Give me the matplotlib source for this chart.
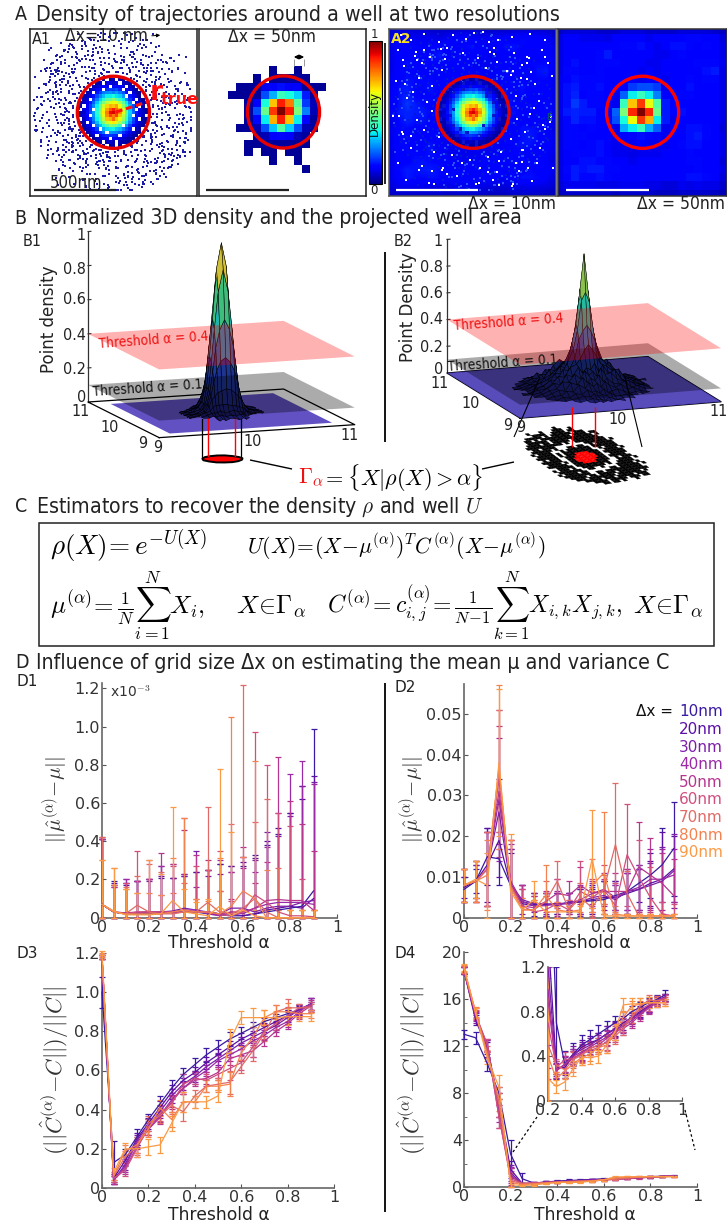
import numpy as np
import matplotlib
matplotlib.use('Agg')
import matplotlib.pyplot as plt
from matplotlib.colors import LinearSegmentedColormap, Normalize
from matplotlib.collections import PolyCollection
from matplotlib.transforms import Affine2D
from matplotlib.patches import Circle, Rectangle
from mpl_toolkits.mplot3d import proj3d
from mpl_toolkits.mplot3d.art3d import Poly3DCollection

W, H = 727, 1226
plt.rcParams['mathtext.fontset'] = 'cm'
plt.rcParams['font.family'] = 'DejaVu Sans'

_ = -1
# ------------------------------------------------------------ data: panel A
grid50 = [
[_,_,_,_,_,_,_,_,_,_,_,_,_,_,_,_,_,_,_,_,_],
[_,_,_,_,_,_,_,_,_,_,_,_,_,_,_,_,_,_,_,_,_],
[_,_,_,_,_,_,_,_,_,_,_,_,_,_,_,_,_,_,_,_,_],
[_,_,_,_,_,_,_,_,_,_,_,_,_,_,_,_,_,_,_,_,_],
[_,_,_,_,_,_,_,_,_,_,_,_,_,_,_,_,_,_,_,_,_],
[_,_,_,_,_,_,_,_,_,2,_,_,2,_,_,_,_,_,_,_,_],
[_,_,_,_,_,_,_,2,_,2,3,3,3,2,_,_,_,_,_,_,_],
[_,_,_,_,_,2,2,2,10,11,14,11,11,3,2,2,_,_,_,_,_],
[_,_,_,_,2,2,2,3,20,30,42,38,33,15,3,_,_,_,_,_,_],
[_,_,_,_,_,_,3,12,38,70,88,78,45,18,5,_,_,_,_,_,_],
[_,_,_,_,_,_,3,20,48,85,100,88,50,25,5,_,_,_,_,_,_],
[_,_,_,_,_,_,3,13,36,72,88,70,36,13,3,_,_,_,_,_,_],
[_,_,_,_,_,2,2,5,20,32,45,33,20,5,3,_,_,_,_,_,_],
[_,_,_,_,_,_,_,3,5,12,13,12,5,3,_,_,_,_,_,_,_],
[_,_,_,_,_,_,2,2,2,3,3,3,2,2,_,_,_,_,_,_,_],
[_,_,_,_,_,_,2,_,2,2,_,2,2,_,_,_,_,_,_,_,_],
[_,_,_,_,_,_,_,_,_,2,_,_,2,_,_,_,_,_,_,_,_],
[_,_,_,_,_,_,_,_,_,_,_,_,_,2,_,_,_,_,_,_,_],
[_,_,_,_,_,_,_,_,_,_,_,_,_,_,_,_,_,_,_,_,_],
[_,_,_,_,_,_,_,_,_,_,_,_,_,_,_,_,_,_,_,_,_],
[_,_,_,_,_,_,_,_,_,_,_,_,_,_,_,_,_,_,_,_,_],
]
bg50 = [
[7,8,8,8,8,7,7,7,8,8,8,7,7,7,7,8,8,8,8,7,6],
[9,11,11,10,10,10,9,11,12,12,11,10,11,11,12,12,13,13,12,11,8],
[9,12,12,11,11,11,12,12,13,13,14,11,10,11,14,14,13,12,13,12,9],
[9,12,11,11,12,13,15,11,11,11,12,11,10,10,12,13,12,12,11,12,9],
[9,12,14,12,12,13,13,13,11,11,11,10,10,11,11,12,11,13,13,13,10],
[9,13,13,12,12,13,11,12,11,12,10,11,10,11,12,12,12,12,14,15,9],
[10,12,14,13,13,13,12,12,11,11,10,11,11,10,12,12,13,12,13,13,9],
[10,14,15,13,13,14,12,11,11,18,20,20,18,10,12,12,14,12,12,12,9],
[10,14,16,12,13,13,12,10,22,36,42,36,25,11,11,13,13,12,12,12,9],
[10,14,18,15,13,13,12,10,42,70,85,63,45,15,11,12,11,12,12,12,9],
[10,15,16,15,15,12,11,22,50,87,100,87,48,15,11,14,12,12,12,12,9],
[9,13,16,14,14,12,11,20,38,64,85,72,36,15,10,12,12,11,12,12,9],
[9,13,13,12,13,12,12,10,30,36,42,30,22,10,11,11,14,14,13,12,8],
[9,13,13,13,12,12,11,10,11,13,14,13,11,10,11,12,14,15,13,12,9],
[9,13,13,12,13,14,11,10,10,10,11,10,10,10,11,13,14,14,12,12,9],
[9,12,13,13,13,14,12,10,10,9,10,10,10,11,12,12,13,12,12,11,9],
[9,12,12,14,14,13,13,11,11,10,11,11,12,12,11,12,13,13,12,11,8],
[9,13,15,14,15,15,13,13,12,12,11,12,12,11,12,12,12,13,12,12,9],
[9,12,15,13,13,14,13,12,12,12,12,12,12,11,11,11,14,14,13,11,8],
[8,10,10,10,10,9,9,9,10,10,10,9,9,8,8,10,9,10,9,9,7],
[6,7,7,7,7,7,7,6,7,7,7,7,6,6,6,7,7,7,7,6,5],
]
blob10 = [
[_,_,_,_,_,_,_,4,_,3,5,_,4,3,_,_,_,_,_,_,_],
[_,_,_,_,_,4,6,_,8,9,7,10,_,6,5,4,_,_,_,_,_],
[_,_,_,_,5,7,9,12,10,_,13,12,11,9,_,6,4,_,_,_,_],
[_,_,_,4,8,11,14,_,17,19,18,20,16,_,13,8,5,3,_,_,_],
[_,_,4,8,_,15,19,24,26,27,25,28,24,21,14,_,8,4,2,_,_],
[_,4,6,10,14,20,26,31,36,36,38,35,33,27,_,15,11,7,3,_,_],
[_,5,8,_,18,25,33,40,46,48,52,47,42,36,26,18,13,_,5,3,_],
[3,6,10,15,22,32,40,50,58,62,64,63,56,46,36,25,_,11,6,4,2],
[4,_,12,18,26,36,47,60,68,72,70,74,64,52,40,30,20,13,_,5,_],
[_,8,13,19,_,38,50,64,74,82,88,80,72,60,44,32,22,_,9,5,3],
[3,7,14,20,28,40,52,66,78,90,92,86,76,62,47,33,23,15,9,6,2],
[4,8,12,_,27,38,50,63,76,84,78,84,70,58,45,32,_,14,10,5,_],
[_,6,11,17,25,36,46,58,70,72,80,70,64,54,42,30,20,13,_,4,3],
[3,5,_,15,22,31,40,50,60,64,66,62,56,46,36,26,18,11,7,4,2],
[_,4,8,12,_,25,32,38,46,52,50,48,42,_,28,19,13,8,5,3,_],
[_,3,6,9,14,19,_,30,34,36,37,33,31,25,19,15,_,7,4,_,_],
[_,_,4,7,10,14,19,24,_,27,26,25,22,17,14,9,7,4,2,_,_],
[_,_,_,3,6,_,13,15,17,18,17,16,_,12,9,7,4,3,_,_,_],
[_,_,_,_,3,5,8,10,11,_,12,10,9,7,5,4,3,_,_,_,_],
[_,_,_,_,_,3,4,_,6,7,5,_,5,4,3,3,_,_,_,_,_],
[_,_,_,_,_,_,_,3,_,3,4,_,3,_,_,_,_,_,_,_,_],
]
a1_x = [228,244,251,233,212,186,153,107,64,12,-34,-78,-128,-166,-204,-232,-244,-248,-233,-207,-178,-131,-88,-36,14,57,108,147,198,222,
 266,268,244,232,176,134,76,28,-22,-79,-126,-184,-218,-259,-268,-284,-261,-249,-206,-169,-111,-64,-2,41,99,136,189,221,259,271,
 298,296,288,258,229,166,114,46,-18,-66,-134,-186,-244,-276,-304,-306,-299,-271,-244,-191,-144,-76,-24,44,96,159,206,254,281,304,
 333,342,328,306,284,236,199,136,84,16,-44,-96,-169,-216,-269,-301,-339,-346,-364,-331,-319,-276,-239,-176,-124,-56,9,66,129,181,244,276,324,341,374,
 377,369,331,304,251,209,146,89,16,-49,-111,-184,-236,-299,-336,-379,-391,-404,-386,-369,-326,-289,-221,-169,-96,-34,44,106,179,231,294,331,379,391,
 424,426,409,381,354,296,249,176,114,36,-31,-114,-176,-249,-306,-369,-401,-434,-446,-459,-436,-414,-366,-319,-251,-194,-116,-49,34,96,174,236,304,356,414,436,459,
 476,474,436,404,336,269,181,99,1,-89,-166,-264,-331,-404,-441,-479,-486,-484,-451,-409,-341,-269,-171,-94,4,81,179,261,344,396,454,476,
 262,318,282,356,148,206,72,-58,-158,-262,-318,-372,-296,-222,-128,-268,-352,-418,-152,-84,128,212,296,372,158,92,38,-142,-238,-312,
 -392,-444,-68,-18,308,356,244,172,118,62,232,188,274,402,442,-206,-122,-344,-424,-478,66,152,328,388,282,204,146,252,170,112]
a1_y = [31,-44,64,-87,114,147,178,203,238,243,241,229,201,178,127,84,26,-24,-67,-119,-157,-198,-221,-244,-247,-238,-212,-188,-136,-104,
 12,-74,109,146,198,227,262,266,276,256,238,201,164,101,54,-9,-57,-114,-156,-209,-232,-266,-271,-268,-247,-228,-191,-159,-106,-37,
 44,-24,91,148,191,238,268,294,297,293,264,238,186,138,66,14,-51,-119,-166,-219,-251,-288,-296,-298,-271,-254,-206,-166,-109,-56,
 17,-48,89,131,194,226,268,297,328,337,348,321,308,261,228,171,119,47,-24,-81,-144,-191,-244,-277,-319,-331,-354,-336,-324,-286,-254,-201,-154,-86,-29,
 64,116,179,231,284,311,349,366,389,386,374,341,314,261,219,146,84,1,-69,-126,-194,-241,-299,-326,-369,-381,-394,-366,-349,-301,-264,-206,-144,-66,
 14,76,154,201,259,306,359,386,424,431,444,421,404,356,319,256,199,121,54,-29,-96,-174,-231,-294,-336,-389,-411,-439,-436,-429,-391,-346,-309,-246,-184,-101,-34,
 26,114,186,274,341,409,436,474,476,466,449,396,349,276,204,111,24,-74,-151,-254,-316,-384,-426,-469,-481,-474,-441,-399,-331,-269,-166,-84,
 312,392,336,298,362,296,402,322,378,342,288,-302,-378,-356,-268,-402,-342,-266,-348,-398,-358,-288,-352,-312,444,386,422,468,438,372,
 -378,-252,-208,-468,252,222,438,458,396,446,-228,-268,-316,-352,-336,-312,-352,-128,-318,-214,-318,-402,-298,186,-214,-252,-306,-182,-292,-336]
a2_white_x = [-440,-380,-300,-210,-120,-40,60,150,240,350,440,-460,-350,-260,-160,-60,30,130,250,330,420,-420,-310,-190,80,210,300,460,-470,-330,-250,290,380,480,-400,-280,260,400,-450,-340,-250,270,350,470,-430,-300,-210,230,320,440,-380,-240,-130,-20,90,170,300,410,-460,-310,-190,-70,40,160,280,390,490,-410,-270,-100,20,120,240,360]
a2_white_y = [-470,-440,-480,-430,-470,-450,-490,-440,-460,-480,-440,-380,-370,-340,-390,-360,-330,-390,-360,-340,-380,-280,-300,-260,-270,-250,-290,-300,-190,-210,-160,-210,-170,-220,-90,-60,-100,-70,20,50,-10,40,10,60,130,110,150,160,120,100,220,240,260,290,270,240,230,220,310,330,350,310,340,300,360,310,340,410,430,390,440,410,450,420]
speck_col = ['#0018d8', '#2a50ff']

# ------------------------------------------------------------ data: panel B
xs1 = [9.62,9.72,9.78,9.82,9.85,9.88,9.91,9.95,10,10.05,10.09,10.12,10.15,10.18,10.22,10.28,10.38]
z1 = [
[_,_,_,1,0,1,0,1,1,0,1,0,1,_,_,_,_],
[_,1,1,2,1,2,2,1,2,1,2,2,1,1,2,_,_],
[_,1,2,3,3,3,4,3,3,4,3,3,2,3,1,1,_],
[1,2,3,4,6,7,7,7,7,6,6,5,5,3,2,1,_],
[0,1,3,6,10,12,14,15,16,15,13,11,9,6,3,2,1],
[1,2,3,7,12,20,27,32,34,31,26,20,12,6,3,1,0],
[0,2,4,7,14,26,40,50,56,50,40,27,13,7,4,1,1],
[1,1,3,7,15,31,50,72,85,72,50,32,15,6,3,2,0],
[0,2,3,6,16,34,56,85,100,86,55,33,15,7,3,1,1],
[1,1,4,7,15,32,50,74,86,72,50,31,14,6,4,1,0],
[0,2,3,6,13,25,41,52,55,51,38,26,13,7,3,2,1],
[1,1,3,7,12,19,26,33,34,32,26,19,12,6,3,1,0],
[0,2,2,6,9,12,14,15,15,14,13,12,9,5,2,2,1],
[_,1,3,4,5,7,6,7,6,7,6,5,5,4,3,1,_],
[_,1,1,3,2,3,4,3,3,3,4,3,2,2,1,1,_],
[_,_,1,1,2,1,2,2,1,2,1,2,1,1,1,_,_],
[_,_,_,0,1,0,1,1,0,1,1,0,1,_,_,_,_],
]
disc1_dx = [-.19,-.17,-.12,-.05,.02,.09,.15,.19,.2,.17,.11,.04,-.04,-.11,-.16]
disc1_dy = [0,.08,.15,.18,.19,.17,.11,.04,-.03,-.1,-.16,-.19,-.18,-.15,-.08]

xs2 = [9.35,9.42,9.5,9.57,9.64,9.7,9.76,9.82,9.88,9.92,9.96,10,10.04,10.08,10.12,10.18,10.24,10.3,10.36,10.43,10.5,10.58,10.65]
z2 = [
[_,_,_,_,_,_,_,1,0,1,0,1,0,1,1,0,_,_,_,_,_,_,_],
[_,_,_,_,_,1,0,1,2,1,1,0,2,1,0,1,1,0,_,_,_,_,_],
[_,_,_,1,0,1,2,3,2,4,2,3,2,4,2,1,2,1,1,_,_,_,_],
[_,_,1,0,2,1,4,3,6,4,5,3,6,3,4,5,3,1,2,0,1,_,_],
[_,_,0,2,2,5,4,9,6,10,7,9,6,10,7,5,7,3,4,1,0,_,_],
[_,1,1,3,5,4,10,8,13,9,12,10,14,9,11,7,6,8,3,4,1,1,_],
[_,0,2,4,5,10,9,15,11,17,13,16,12,18,13,14,9,7,7,3,3,0,_],
[1,1,2,5,8,7,14,12,19,14,18,16,21,14,19,12,15,8,5,4,2,1,0],
[0,1,3,3,7,12,11,18,20,24,30,34,30,25,19,17,13,14,7,5,2,1,_],
[1,0,3,5,9,8,16,15,24,38,44,48,43,36,23,19,15,10,8,3,4,0,1],
[_,1,3,4,7,13,12,20,30,44,66,72,64,42,28,15,18,11,5,4,2,1,_],
[0,1,4,6,8,11,17,16,34,48,74,100,72,47,32,20,14,12,8,5,3,0,1],
[_,1,3,5,6,12,15,19,29,42,64,70,66,43,27,16,19,10,7,4,2,1,_],
[1,0,4,3,8,10,14,18,23,36,42,46,44,37,22,18,14,11,8,3,3,1,0],
[0,1,3,5,7,13,12,17,19,23,29,32,30,25,20,15,16,12,5,4,2,0,1],
[1,1,3,4,9,8,15,19,16,14,19,15,18,16,14,19,11,9,7,4,3,1,_],
[_,0,2,5,5,11,10,13,16,11,14,18,12,15,11,14,12,8,5,3,3,1,_],
[_,1,2,3,8,5,10,7,11,8,12,8,11,10,12,7,8,7,4,4,1,0,_],
[_,_,1,4,3,5,4,8,4,7,5,8,4,8,5,7,4,5,3,1,1,_,_],
[_,_,0,1,3,2,4,3,5,3,4,3,4,3,5,3,4,2,3,1,0,_,_],
[_,_,_,1,1,2,2,3,1,3,2,3,2,2,3,1,1,2,1,_,_,_,_],
[_,_,_,_,_,0,1,1,2,0,1,2,0,1,1,1,0,_,_,_,_,_,_],
[_,_,_,_,_,_,_,0,1,0,1,0,1,0,1,_,_,_,_,_,_,_,_],
]
tile2 = [
".........##.##.#...#.......",
".......####.#####.###.##...",
".....#####.###.#####.###...",
"...###.########.#######.#..",
"..#####.##.#####.#########.",
".########..##.###########..",
"#.####.##.......##.######.#",
".#######..##..#....#####.#.",
"#.###.#..#######.#..#####..",
"..#####.##########...####.#",
"######..###RRRR####..#.###.",
".####.#.##RRRRRR###.#####..",
"######..##RRRRRRR##..#####.",
".#.###..###RRRRRR##.######.",
"######.#.###RRRR###..####.#",
".#####.#.#########..#.####.",
"#.####...#.#######.#######.",
".######.#...##.##..#.#####.",
"..##.####.........#######.#",
".###########.#..#########..",
"..####.##.#####.########...",
"...######.#############.#..",
"...##.#.#########.####.##..",
"....#####.#.######.###.....",
".......####..####.##.......",
"......#...#...###..#.......",
"...............#...........",
]

# ------------------------------------------------------------ data: panel D
alphas = [0,.05,.1,.15,.2,.25,.3,.35,.4,.45,.5,.55,.6,.65,.7,.75,.8,.85,.9]
sizes = ['10nm','20nm','30nm','40nm','50nm','60nm','70nm','80nm','90nm']
series_col = ['#3a1aa0','#5a0fa5','#7b1fa8','#9a2aa5','#b5358f','#cf4f7f','#e06a65','#f3824f','#fb9a45']

d1_mean = [
[.07,.03,.02,.02,.02,.02,.03,.03,.03,.02,.015,.01,.01,.02,.03,.04,.05,.06,.14],
[.07,.03,.02,.02,.02,.03,.03,.04,.03,.03,.02,.02,.01,.02,.04,.05,.06,.05,.1],
[.07,.03,.02,.025,.03,.03,.035,.05,.04,.03,.02,.05,.05,.03,.05,.06,.06,.08,.09],
[.07,.03,.025,.025,.03,.03,.03,.04,.04,.02,.01,.03,.02,.05,.07,.08,.08,.08,.07],
[.07,.03,.025,.03,.03,.03,.025,.03,.03,.03,.02,.03,.03,.05,.09,.095,.09,.09,.04],
[.07,.03,.02,.03,.03,.03,.03,.04,.03,.03,.015,.01,.03,.12,.08,.03,.01,.01,.005],
[.07,.03,.02,.065,.03,.02,.02,.03,.03,.08,.03,.02,.05,.1,.03,0,0,0,0],
[.07,.03,.02,.02,.02,.02,.03,.04,.03,.03,.02,.06,.14,.1,0,0,0,0,0],
[.07,.035,.015,.015,.015,.02,.09,.03,.02,.01,.06,.01,.04,.01,0,0,0,0,0],
]
d1_top = [
[.41,.19,.18,.19,.2,.21,.21,.23,.24,.25,.28,.27,.27,.33,.38,.44,.55,.69,.99],
[.41,.18,.17,.19,.2,.22,.21,.22,.24,.25,.28,.27,.29,.31,.4,.47,.55,.62,.74],
[.41,.17,.2,.19,.19,.27,.21,.22,.35,.22,.23,.24,.32,.3,.45,.43,.53,.69,.71],
[.41,.16,.2,.19,.2,.27,.28,.23,.16,.25,.3,.24,.26,.24,.37,.55,.75,.82,.7],
[.41,.16,.18,.19,.2,.34,.28,.46,.33,.3,.14,.1,.37,.18,.29,.84,.61,.49,.35],
[.42,.17,.18,.35,.3,.12,.27,.52,.27,.25,.35,.09,.32,.97,.8,.55,.48,.2,.04],
[.42,.17,.16,.22,.28,.24,.13,.18,.1,.58,.14,.49,1.22,.5,.62,.26,.04,.04,.04],
[.3,.26,.15,.13,.13,.12,.31,.52,.1,.09,.31,1.05,.32,.82,.25,.04,.04,.04,.04],
[.3,.26,.15,.13,.3,.23,.58,.15,.08,.1,.78,.45,.04,.04,.04,.04,.04,.04,.04],
]
d2_mean = [
[.007,.009,.015,.0145,.008,.004,.0033,.0033,.0035,.0037,.004,.0042,.0045,.0055,.0065,.0085,.0105,.013,.017],
[.0075,.009,.013,.019,.008,.0035,.003,.0033,.0035,.0035,.004,.0045,.005,.005,.006,.007,.0085,.0095,.012],
[.008,.009,.012,.026,.008,.0045,.0035,.0035,.003,.004,.004,.005,.0055,.0045,.0065,.007,.008,.009,.0115],
[.008,.009,.012,.029,.009,.004,.003,.003,.0035,.0035,.0045,.006,.007,.005,.0065,.0075,.0095,.0095,.0105],
[.008,.009,.012,.031,.009,.003,.0025,.004,.006,.0055,.008,.006,.0065,.0065,.0065,.0125,.0105,.0085,.0055],
[.008,.009,.012,.034,.008,.003,.0015,.002,.0035,.002,.0065,.005,.007,.003,.0155,.01,.005,.001,.0005],
[.008,.009,.012,.036,.008,.002,.002,.004,.009,.002,.005,.0025,.007,.018,.006,.0005,.0005,.0005,.0005],
[.008,.009,.0105,.037,.0075,.002,.002,.0055,.002,.0015,.002,.008,.011,.001,.0005,.0005,.0005,.0005,.0005],
[.008,.0095,.008,.038,.0065,.002,.0045,.0015,.0015,.0015,.0015,.0145,.0005,.0005,.0005,.0005,.0005,.0005,.0005],
]
d2_top = [
[.01,.012,.022,.021,.016,.008,.006,.006,.006,.006,.007,.007,.009,.009,.012,.013,.016,.022,.0285],
[.01,.013,.022,.028,.017,.007,.006,.006,.006,.006,.007,.008,.009,.009,.011,.012,.014,.021,.02],
[.012,.013,.021,.034,.017,.008,.0055,.006,.006,.006,.0075,.0075,.009,.008,.011,.012,.0135,.0175,.0205],
[.012,.014,.021,.044,.018,.008,.006,.0055,.0065,.006,.008,.0085,.011,.008,.011,.013,.017,.017,.017],
[.012,.014,.021,.047,.019,.008,.0055,.0065,.0095,.009,.0125,.009,.0095,.011,.012,.0235,.0195,.016,.0145],
[.012,.014,.021,.051,.019,.007,.004,.006,.0095,.0045,.014,.0095,.013,.0085,.028,.019,.0125,.004,.0035],
[.012,.014,.021,.051,.019,.005,.0045,.009,.014,.0045,.0085,.0065,.0105,.033,.0115,.001,.001,.001,.001],
[.012,.014,.019,.057,.019,.005,.0045,.013,.004,.003,.004,.0145,.026,.0015,.001,.001,.001,.001,.001],
[.012,.014,.016,.056,.0205,.004,.009,.0035,.003,.003,.003,.0265,.001,.001,.001,.001,.001,.001,.001],
]
d3_mean = [
[1.0,.13,.17,.26,.35,.43,.51,.58,.63,.68,.72,.76,.79,.82,.85,.87,.89,.91,.93],
[1.18,.05,.14,.25,.33,.41,.49,.55,.59,.64,.68,.72,.76,.79,.82,.85,.88,.91,.94],
[1.18,.04,.12,.24,.32,.39,.47,.53,.57,.62,.66,.7,.74,.77,.8,.83,.87,.91,.94],
[1.18,.04,.11,.23,.3,.37,.45,.51,.56,.6,.65,.68,.71,.75,.78,.82,.85,.9,.94],
[1.18,.04,.1,.21,.3,.36,.44,.51,.55,.56,.59,.66,.68,.7,.75,.8,.84,.89,.93],
[1.18,.05,.09,.2,.31,.38,.43,.53,.56,.55,.58,.61,.64,.72,.8,.84,.88,.92,.93],
[1.18,.06,.16,.21,.33,.37,.42,.39,.47,.52,.53,.54,.62,.7,.79,.9,.92,.92,.92],
[1.19,.06,.19,.22,.3,.41,.35,.44,.44,.52,.52,.53,.69,.77,.87,.9,.9,.89,.89],
[1.2,.08,.2,.2,.21,.22,.33,.44,.44,.44,.47,.75,.87,.87,.87,.87,.875,.875,.875],
]
d3_err_low = [.08,.11,.03,.04,.03,.04,.04,.035,.035,.035,.035,.035,.03,.03,.02,.02,.02,.02,.02]
d3_err_mid = [.01,.02,.03,.03,.03,.035,.035,.03,.03,.03,.03,.03,.03,.03,.025,.025,.03,.025,.03]
d3_err_high = [.01,.02,.03,.04,.04,.04,.04,.05,.03,.03,.03,.06,.035,.05,.04,.035,.045,.02,.02]
d3_err_sel = [0,1,1,1,1,2,2,2,2]

d4_mean = [
[13,12.7,10.5,8,2.8,.7,.33,.42,.5,.55,.6,.65,.7,.74,.8,.84,.88,.91,.95],
[18.4,14.2,11.8,7,1.5,.3,.3,.4,.48,.52,.55,.6,.65,.7,.75,.8,.85,.9,.93],
[18.4,14.4,12,7,1.2,.28,.32,.42,.46,.5,.55,.6,.64,.68,.74,.79,.85,.9,.93],
[18.4,14.5,12,6.5,1,.27,.33,.4,.44,.48,.53,.57,.63,.67,.72,.78,.84,.89,.93],
[18.4,14.6,12.1,6,.9,.27,.33,.38,.43,.47,.5,.56,.62,.65,.7,.77,.83,.88,.92],
[18.5,14.7,12.1,6,.7,.3,.37,.38,.42,.45,.48,.53,.6,.68,.75,.82,.86,.9,.92],
[18.5,14.8,11.5,7,.5,.32,.28,.37,.41,.47,.5,.52,.58,.65,.75,.85,.9,.9,.9],
[18.6,14.9,11.2,7.5,.4,.2,.27,.33,.39,.42,.48,.5,.62,.75,.85,.87,.88,.88,.88],
[18.7,14.8,11,8.5,.2,.13,.17,.29,.39,.39,.4,.5,.62,.86,.87,.87,.88,.88,.88],
]
d4_err_first = [.4,.5,.6,.5,1.2,.5,.12,.1,.09,.09,.08,.07,.06,.06,.05,.05,.04,.04,.04]
d4_err_rest = [.3,.4,.5,1,.7,.06,.07,.07,.07,.06,.06,.07,.07,.06,.05,.05,.05,.04,.03]

# ------------------------------------------------------------ helpers
fig = plt.figure(figsize=(W/100, H/100), dpi=100, facecolor='white')
def axpx(x0, y0, x1, y1, **kw):
    return fig.add_axes([x0/W, 1-y1/H, (x1-x0)/W, (y1-y0)/H], **kw)

ov = fig.add_axes([0, 0, 1, 1], zorder=100)
ov.set_xlim(0, W); ov.set_ylim(H, 0); ov.axis('off'); ov.patch.set_visible(False)
COND = dict(family='DejaVu Sans', stretch='condensed')
TXT = '#222222'
def t(x, y, s, size=12, ha='left', va='center', color=TXT, **kw):
    return ov.text(x, y, s, fontsize=size, ha=ha, va=va, color=color, **kw)
def seg(xs, ys, color='k', lw=1, **kw):
    ov.plot(xs, ys, color=color, lw=lw, solid_capstyle='butt', **kw)

# ------------------------------------------------------------ headers
for lab, x_lab, y, s in [('A', 15, 15, 'Density of trajectories around a well at two resolutions'),
                         ('B', 14, 218, 'Normalized 3D density and the projected well area'),
                         ('C', 15, 507, 'Estimators to recover the density $\\rho$ and well $U$'),
                         ('D', 15, 663, 'Influence of grid size Δx on estimating the mean μ and variance C')]:
    t(x_lab, y, lab, size=14, **COND)
    t(36, y, s, size=15.3, **COND)

# ------------------------------------------------------------ panel A
S = 6.1
def panel(x0, x1, cx, cy=112.3, y0=29, y1=196, edge='#222222'):
    a = axpx(x0, y0, x1, y1)
    a.set_xlim((x0-cx)*S, (x1-cx)*S); a.set_ylim((y1-cy)*S, (y0-cy)*S)
    a.set_xticks([]); a.set_yticks([])
    for sp in a.spines.values():
        sp.set_color(edge); sp.set_linewidth(1.1)
    return a
def arr(m):
    return np.ma.masked_less(np.array(m, float), 0)/100.
def ring(a, col='#e60000', lw=2.4):
    a.add_patch(Circle((0, 0), 220, fill=False, ec=col, lw=lw, zorder=6))
dot = '#1c1ca8'
a1 = panel(30, 197, 113.4)
a1.scatter(a1_x, a1_y, s=1.8, marker='s', color=dot, linewidths=0, zorder=2)
a1.scatter(a1_y, a1_x, s=1.8, marker='s', color=dot, linewidths=0, zorder=2)
a1.scatter(a1_y[::-1], a1_x, s=1.8, marker='s', color=dot, linewidths=0, zorder=2)
a1.add_patch(Circle((0, 0), 205, fc='white', ec='none', zorder=2.5))
a1.imshow(arr(blob10), cmap='jet', vmin=0, vmax=1, extent=(-210, 210, 210, -210), interpolation='nearest', zorder=3)
a1.set_xlim((30-113.4)*S, (197-113.4)*S); a1.set_ylim((196-112.3)*S, (29-112.3)*S); a1.set_aspect('auto')
ring(a1)

a1b = panel(199, 366, 283.5, 112)
a1b.imshow(arr(grid50), cmap='jet', vmin=0, vmax=1, extent=(-538, 512, 521, -529), interpolation='nearest', zorder=2)
a1b.set_xlim((199-283.5)*S, (366-283.5)*S); a1b.set_ylim((196-112)*S, (29-112)*S); a1b.set_aspect('auto')
ring(a1b)

a2 = panel(389, 556, 473, edge='#555555')
a2.imshow(arr(bg50), cmap='jet', vmin=0, vmax=1, extent=(-525, 525, 525, -525), interpolation='bilinear', zorder=1)
a2.add_patch(Circle((0, 0), 215, fc='#0a14c8', ec='none', zorder=1.5))
a2.scatter(a1_y, a1_x, s=1.8, marker='s', color=speck_col[0], linewidths=0, zorder=2)
a2.scatter(a1_x[::-1], a1_y, s=1.8, marker='s', color=speck_col[1], linewidths=0, zorder=2)
a2.scatter(a2_white_x, a2_white_y, s=2.2, marker='s', color='white', linewidths=0, zorder=3)
a2.scatter(a1_x[120::4], a1_y[120::4], s=1.8, marker='s', color='white', linewidths=0, zorder=3)
a2.imshow(arr(blob10), cmap='jet', vmin=0, vmax=1, extent=(-210, 210, 210, -210), interpolation='nearest', zorder=4)
a2.set_xlim((389-473)*S, (556-473)*S); a2.set_ylim((196-112.3)*S, (29-112.3)*S); a2.set_aspect('auto')
ring(a2)

a2b = panel(558, 727, 642.6, edge='#333333')
a2b.imshow(arr(bg50), cmap='jet', vmin=0, vmax=1, extent=(-537, 513, 522, -528), interpolation='nearest', zorder=2)
a2b.set_xlim((558-642.6)*S, (727-642.6)*S); a2b.set_ylim((196-112.3)*S, (29-112.3)*S); a2b.set_aspect('auto')
ring(a2b, col='#ff0000')

cax = axpx(368.5, 41, 382, 184)
matplotlib.colorbar.ColorbarBase(cax, cmap=plt.get_cmap('jet'), norm=Normalize(0, 1), ticks=[])

t(374, 34, '1', size=8.5, ha='center')
t(374, 190, '0', size=8.5, ha='center')
t(374, 113, 'Density', size=8.5, ha='center', rotation=90, color='#111111')
seg([385, 385], [43, 184], lw=1.2)
t(32, 40, 'A1', size=11.5, **COND)
t(65, 36, 'Δx=10 nm', size=12.5, **COND)
t(228, 37, 'Δx = 50nm', size=12.5, **COND)
t(391, 39, 'A2', size=10, color='#f5e020', fontweight='bold')
t(468, 204, 'Δx = 10nm', size=12.5, **COND)
t(637, 204, 'Δx = 50nm', size=12.5, **COND)
t(50, 183, '500nm', size=12, **COND)
t(549, 117, '8', size=6.5, ha='center', color='#0a7a30')
for x0, x1, col in [(34, 116, '#222222'), (206, 289, '#222222'), (396, 478, 'white'), (566, 649, 'white')]:
    seg([x0, x1], [190, 190], color=col, lw=1.6)
ov.annotate('', xy=(163, 35), xytext=(149, 36), arrowprops=dict(arrowstyle='-|>', lw=.7, color='k', mutation_scale=5))
ov.annotate('', xy=(307, 57), xytext=(291, 57), arrowprops=dict(arrowstyle='<|-|>', lw=1, color='k', mutation_scale=6))
seg([294, 294], [59, 66], color='#999999', lw=.7)
seg([304, 304], [59, 66], color='#999999', lw=.7)
seg([116, 150], [112, 101], color='#ff1010', lw=2.2, linestyle=(0, (2.2, 1.2)))
t(150, 93, 'r', size=19, color='#ff1010', fontweight='bold')
t(161, 99, 'true', size=11.5, color='#ff1010', fontweight='bold')

# ------------------------------------------------------------ panel B
surf_cmap = LinearSegmentedColormap.from_list('well', [(0, '#1b1a6a'), (.3, '#1d3a9a'), (.42, '#1f90c0'),
                                                       (.55, '#20b8a8'), (.72, '#50c060'), (.88, '#e8c030'), (1, '#f0a020')])
def make3d(rect_px, elev, azim, zr):
    a = axpx(*rect_px, projection='3d', proj_type='ortho', computed_zorder=False)
    a.view_init(elev=elev, azim=azim)
    a.set_xlim(9, 11, view_margin=0); a.set_ylim(9, 11, view_margin=0); a.set_zlim(0, 1, view_margin=0)
    a.set_box_aspect((1, 1, zr))
    a.set_axis_off(); a.patch.set_visible(False)
    return a
def fit3d(a, zr, anchor, anchor_px, ref, length):
    def proj(P):
        x, y, _z = proj3d.proj_transform(*P, a.get_proj())
        return a.transData.transform((x, y))
    a.apply_aspect()
    d = np.hypot(*(proj(ref)-proj(anchor)))
    a.set_box_aspect((1, 1, zr), zoom=length/d)
    a.apply_aspect()
    p = proj(anchor)
    pos = a.get_position()
    a.set_position([pos.x0+(anchor_px[0]-p[0])/W, pos.y0+((H-anchor_px[1])-p[1])/H, pos.width, pos.height])
def plane(a, lo, hi, z, color, zo):
    a.add_collection3d(Poly3DCollection([[(lo, lo, z), (hi, lo, z), (hi, hi, z), (lo, hi, z)]],
                                        facecolors=[color], edgecolors='none', zorder=zo))
def surf(a, xs, Z, zo, lw=.4):
    polys, cols = [], []
    for i in range(len(xs)-1):
        for j in range(len(xs)-1):
            v = [Z[i][j], Z[i][j+1], Z[i+1][j+1], Z[i+1][j]]
            if min(v) < 0:
                continue
            q = [xs[j], xs[j+1], xs[j+1], xs[j]]
            r = [xs[i], xs[i], xs[i+1], xs[i+1]]
            polys.append([(q[k], r[k], v[k]/100.) for k in range(4)])
            cols.append(surf_cmap(np.mean(v)/100.))
    a.add_collection3d(Poly3DCollection(polys, facecolors=cols, edgecolors='k', linewidths=lw, zorder=zo))
def axes_frame(a):
    a.plot([9, 9], [11, 11], [0, 1], color='#333333', lw=.9, zorder=1)
    for z in [.2, .4, .6, .8, 1]:
        a.plot([9, 9.03], [11, 11], [z, z], color='#333333', lw=.8, zorder=1)
    a.plot([9, 11, 11, 9, 9], [9, 9, 11, 11, 9], [0, 0, 0, 0, 0], color='k', lw=.9, zorder=1)

# B1
zr1 = .833
b1 = make3d((-40, 160, 460, 660), 10.5, 250, zr1)
axes_frame(b1)
plane(b1, 9.17, 10.83, 0, (.27, .2, .72, .85), 2)
surf(b1, xs1, z1, 5, lw=.35)
plane(b1, 9, 11, .1, (0, 0, 0, .33), 7)
plane(b1, 9, 11, .4, (1, 0, 0, .3), 8)
d1x = [10+v for v in disc1_dx]; d1y = [10+v for v in disc1_dy]
b1.add_collection3d(Poly3DCollection([[(x, y, -.265) for x, y in zip(d1x, d1y)]],
                                     facecolors=['#ff0000'], edgecolors='k', linewidths=1.4, zorder=4))
for s, col in [(1, 'red'), (-1, 'red')]:
    b1.plot([10+s*.12]*2, [10-s*.04]*2, [-.25, -.02], color=col, lw=1, zorder=4)
    b1.plot([10+s*.18]*2, [10-s*.055]*2, [-.26, -.03], color='k', lw=.9, zorder=4)
fit3d(b1, zr1, (9, 11, 0), (88, 402), (11, 11, 0), 196)

# B2
zr2 = .641
b2 = make3d((330, 160, 830, 660), 13, 250, zr2)
axes_frame(b2)
plane(b2, 9, 11, 0, (.27, .22, .7, .9), 2)
surf(b2, xs2, z2, 5, lw=.3)
plane(b2, 9, 11, .1, (0, 0, 0, .33), 7)
plane(b2, 9, 11, .4, (1, 0, 0, .3), 8)
fit3d(b2, zr2, (9, 11, 0), (447, 373), (11, 11, 0), 201.6)

cell = []; cell_col = []
for i, row in enumerate(tile2):
    for j, ch in enumerate(row):
        if ch == '.':
            continue
        x0 = 9.46+.04*j; y0 = 9.46+.04*i
        cell.append([(x0, y0), (x0+.04, y0), (x0+.04, y0+.04), (x0, y0+.04)])
        cell_col.append('#ff0000' if ch == 'R' else '#000000')
ov.add_collection(PolyCollection(cell, facecolors=cell_col, edgecolors=cell_col, linewidths=.2,
                                 transform=Affine2D.from_values(80, -13, -68, -50, 463, 1085)+ov.transData))
seg([514, 540], [437, 377], lw=.8)
seg([642, 625], [447, 377], lw=.8)
seg([572, 572], [447, 407], color='red', lw=1)
seg([595, 595], [447, 407], color='red', lw=1)

t(23, 241, 'B1', size=11.5, **COND)
t(394, 241, 'B2', size=11.5, **COND)
for lab, y in zip(['1', '0.8', '0.6', '0.4', '0.2', '0'], [236, 269, 300, 335, 369, 397]):
    t(86, y, lab, size=11.5, ha='right', **COND)
for lab, x, y in [('11', 81, 411), ('10', 110, 427), ('9', 143, 443), ('9', 158, 447), ('10', 253, 442), ('11', 350, 436)]:
    t(x, y, lab, size=11.5, ha='center', **COND)
for lab, y in zip(['1', '0.8', '0.6', '0.4', '0.2', '0'], [241, 267, 293, 320, 347, 369]):
    t(443, y, lab, size=11.5, ha='right', **COND)
for lab, x, y in [('11', 440, 384), ('10', 471, 404), ('9', 508, 425), ('9', 521, 427), ('10', 618, 420), ('11', 719, 412)]:
    t(x, y, lab, size=11.5, ha='center', **COND)
t(49, 319, 'Point density', size=12, rotation=90, ha='center')
t(408, 307, 'Point Density', size=12, rotation=90, ha='center')
t(154, 340, 'Threshold α = 0.4', size=9.8, ha='center', color='#ee1111', rotation=4, rotation_mode='anchor', **COND)
t(148, 388, 'Threshold α = 0.1', size=9.8, ha='center', color='#111111', rotation=4, rotation_mode='anchor', **COND)
t(509, 322, 'Threshold α = 0.4', size=9.8, ha='center', color='#ee1111', rotation=4, rotation_mode='anchor', **COND)
t(503, 363, 'Threshold α = 0.1', size=9.8, ha='center', color='#111111', rotation=4, rotation_mode='anchor', **COND)
seg([385, 385], [252, 442], lw=1.3)
seg([250, 292], [460, 469], lw=1)
seg([482, 514], [469, 462], lw=1)
t(298, 478, r'$\Gamma_\alpha$', size=16, color='#ee1111')
t(322, 478, r'$=\{X|\rho(X)>\alpha\}$', size=16, color='k')

# ------------------------------------------------------------ panel C
ov.add_patch(Rectangle((39, 523), 675, 123, fill=False, ec='#222222', lw=1.1))
t(50, 546, r'$\rho(X)\!=e^{-U(X)}$', size=19.5, color='k')
t(247, 547, r'$U(X)\!=\!(X\!-\!\mu^{(\alpha)})^T C^{(\alpha)}(X\!-\!\mu^{(\alpha)})$', size=15.5, color='k')
t(50, 606, r'$\mu^{(\alpha)}\!=\frac{1}{N}\sum_{i=1}^{N}X_i,$', size=18, color='k')
t(236, 606, r'$X\!\in\!\Gamma_\alpha$', size=18.5, color='k')
t(327, 606, r'$C^{(\alpha)}\!=c_{i,j}^{(\alpha)}\!=\frac{1}{N\!-\!1}\sum_{k=1}^{N}X_{i,k}X_{j,k},$', size=17, color='k')
t(633, 606, r'$X\!\in\!\Gamma_\alpha$', size=18.5, color='k')

# ------------------------------------------------------------ panel D
def style(a, xt, yt, ylab, minor=None, tick_size=11.5):
    for s in ('top', 'right'):
        a.spines[s].set_visible(False)
    for s in ('left', 'bottom'):
        a.spines[s].set_color('#666666'); a.spines[s].set_linewidth(1.2)
    a.set_xticks(xt); a.set_xticklabels([('%g' % v) for v in xt])
    a.set_yticks(yt); a.set_yticklabels(ylab)
    a.tick_params(direction='in', length=3, width=.8, color='#555555', labelsize=tick_size, labelcolor='#333333', pad=1.5)
    if minor is not None:
        a.set_yticks(minor, minor=True)
        a.tick_params(which='minor', direction='in', length=2, width=.6, color='#555555')
    a.patch.set_visible(False)
def bars(a, xs, m, lo, up, col, clip=False):
    c = a.errorbar(xs, m, yerr=[lo, up], color=col, lw=.9, elinewidth=.9, capsize=2.3, capthick=.9, zorder=3)
    if not clip:
        c.lines[0].set_clip_on(False)
        for q in list(c.lines[1])+list(c.lines[2]):
            q.set_clip_on(False)
xt = [0, .2, .4, .6, .8, 1]
A = np.array(alphas)

# D1
d1 = axpx(102, 683.3, 337, 917.7)
d1.set_xlim(0, 1); d1.set_ylim(0, 1.227)
for m, u, c in zip(d1_mean, d1_top, series_col):
    m = np.array(m); u = np.array(u)
    bars(d1, A, m, m, np.clip(u-m, 0, None), c)
style(d1, xt, [0, .2, .4, .6, .8, 1, 1.2], ['0', '0.2', '0.4', '0.6', '0.8', '1.0', '1.2'])

# D2
d2 = axpx(464, 684, 697, 918)
d2.set_xlim(0, 1); d2.set_ylim(0, .0573)
for m, u, c in zip(d2_mean, d2_top, series_col):
    m = np.array(m); u = np.array(u); e = np.clip(u-m, 0, None)
    bars(d2, A, m, np.minimum(e, m), e, c)
style(d2, xt, [0, .01, .02, .03, .04, .05], ['0', '0.01', '0.02', '0.03', '0.04', '0.05'])

# D3
d3 = axpx(102, 953, 334, 1188)
d3.set_xlim(0, 1); d3.set_ylim(0, 1.2)
errs3 = [d3_err_low, d3_err_mid, d3_err_high]
for m, k, c in zip(d3_mean, d3_err_sel, series_col):
    m = np.array(m); e = np.array(errs3[k])
    bars(d3, A, m, np.minimum(e, m), e, c)
style(d3, xt, [0, .2, .4, .6, .8, 1, 1.2], ['0', '0.2', '0.4', '0.6', '0.8', '1.0', '1.2'])

# D4
d4 = axpx(464, 952, 697, 1187)
d4.set_xlim(0, 1); d4.set_ylim(0, 20)
d4i = axpx(548, 967, 682, 1101)
d4i.set_xlim(.2, 1); d4i.set_ylim(0, 1.2)
for i, (m, c) in enumerate(zip(d4_mean, series_col)):
    m = np.array(m); e = np.array(d4_err_first if i == 0 else d4_err_rest)
    bars(d4, A, m, np.minimum(e, m), e, c)
    keep = A >= .19
    lo = np.minimum(e, m)[keep]
    bars(d4i, A[keep], m[keep], lo, e[keep], c, clip=True)
style(d4, xt, [0, 4, 8, 12, 16, 20], ['0', '4', '8', '12', '16', '20'], minor=[2, 6, 10, 14, 18])
style(d4i, [.2, .4, .6, .8, 1], [0, .4, .8, 1.2], ['0', '0.4', '0.8', '1.2'])
seg([513, 537], [1152, 1117], lw=.9, linestyle=(0, (2, 2)))
seg([685, 695], [1110, 1150], lw=.9, linestyle=(0, (2, 2)))

seg([385, 385], [683, 1212], lw=1.3)
for lab, x, y in [('D1', 17, 682), ('D2', 394, 688), ('D3', 17, 954), ('D4', 394, 954)]:
    t(x, y, lab, size=11)
for x, y in [(219, 943.5), (580, 943.5), (219, 1215), (585, 1215)]:
    t(x, y, 'Threshold α', size=12.3, ha='center', color='#222222')
t(110, 692, 'x10$^{-3}$', size=10, color='#333333')
t(55, 800, r'$||\hat{\mu}^{(\alpha)}{-}\mu||$', size=15, rotation=90, ha='center', color='#333333')
t(412, 800, r'$||\hat{\mu}^{(\alpha)}{-}\mu||$', size=15, rotation=90, ha='center', color='#333333')
t(55, 1070, r'$(||\hat{C}^{(\alpha)}{-}C||)/||C||$', size=16.3, rotation=90, ha='center', color='#333333')
t(412, 1070, r'$(||\hat{C}^{(\alpha)}{-}C||)/||C||$', size=16.3, rotation=90, ha='center', color='#333333')
t(673, 712, 'Δx =', size=11, ha='right', color='#111111')
for i, (lab, c) in enumerate(zip(sizes, series_col)):
    t(679, 712+17.6*i, lab, size=11, color=c)

fig.savefig('out.png', dpi=100, facecolor='white')
